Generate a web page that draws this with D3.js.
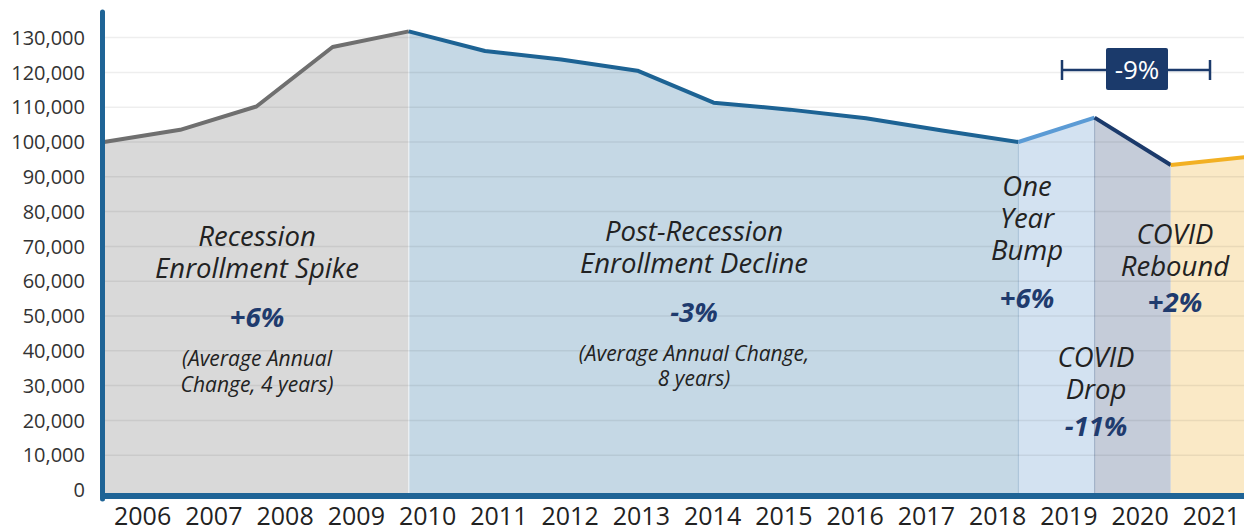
<!DOCTYPE html>
<html>
<head>
<meta charset="utf-8">
<script src="https://cdn.jsdelivr.net/npm/d3@7"></script>
<style>
  html, body { margin: 0; padding: 0; background: #fff; }
  svg { display: block; font-family: "Open Sans", "Noto Sans", sans-serif; }
</style>
</head>
<body>
<svg id="chart" width="1244" height="529"></svg>
<script>
// ---- Data ----
const years = [2006, 2007, 2008, 2009, 2010, 2011, 2012, 2013, 2014, 2015, 2016, 2017, 2018, 2019, 2020, 2021];
const enrollment = [100000, 103500, 110200, 127300, 131800, 126150, 123700, 120500, 111300, 109300, 106800, 103300, 100000, 107000, 93400, 95700];
const yTicks = [0, 10000, 20000, 30000, 40000, 50000, 60000, 70000, 80000, 90000, 100000, 110000, 120000, 130000];
const segStart = [2006, 2010, 2018, 2019, 2020];
const segEnd = [2010, 2018, 2019, 2020, 2021];
const segTitles = [
  ["Recession", "Enrollment Spike"],
  ["Post-Recession", "Enrollment Decline"],
  ["One", "Year", "Bump"],
  ["COVID", "Drop"],
  ["COVID", "Rebound"]
];
const segChange = ["+6%", "-3%", "+6%", "-11%", "+2%"];
const segNotes = [
  ["(Average Annual", "Change, 4 years)"],
  ["(Average Annual Change,", "8 years)"],
  [], [], []
];
const bracketLabel = "-9%";

// ---- Styles / layout ----
const lineColors = ["#6f6f6f", "#1d6394", "#5b9bd5", "#1b3a6b", "#f2b023"];
const fillColors = ["#d9d9d9", "#c5d8e5", "#d3e2f1", "#c5ccd9", "#fae9c6"];
const textLayout = [
  { x: 257, title: 245.7, change: 327, note: 366 },
  { x: 694, title: 240.7, change: 322, note: 360.5 },
  { x: 1027, title: 196, change: 308, note: 0 },
  { x: 1096, title: 366.7, change: 435.5, note: 0 },
  { x: 1175, title: 244.3, change: 312, note: 0 }
];

const svg = d3.select("#chart");
const x = d3.scaleLinear().domain([2006, 2021]).range([104, 1247]);
const xBand = d3.scaleBand().domain(years).range([107, 1247]);
const y = d3.scaleLinear().domain([0, 130000]).range([490, 37.6]);

const pts = years.map((yr, i) => ({ yr, v: enrollment[i] }));

// fills
segStart.forEach((s, k) => {
  const sub = pts.filter(p => p.yr >= s && p.yr <= segEnd[k]);
  const area = d3.area().x(p => x(p.yr)).y0(y(0) + 3).y1(p => y(p.v));
  svg.append("path").attr("d", area(sub)).attr("fill", fillColors[k]);
});

// segment dividers
svg.append("line").attr("x1", x(2010)).attr("x2", x(2010))
  .attr("y1", y(enrollment[years.indexOf(2010)])).attr("y2", y(0) + 3)
  .attr("stroke", "#eef2f5").attr("stroke-width", 1.2);
[2018, 2019].forEach((yr, k) => {
  svg.append("line").attr("x1", x(yr)).attr("x2", x(yr))
    .attr("y1", y(enrollment[years.indexOf(yr)])).attr("y2", y(0) + 3)
    .attr("stroke", k === 0 ? "#aec6da" : "#a3b3c9").attr("stroke-width", 1.2);
});

// gridlines
svg.append("g").selectAll("line").data(yTicks.filter(t => t > 0)).join("line")
  .attr("x1", 105).attr("x2", 1244)
  .attr("y1", d => y(d)).attr("y2", d => y(d))
  .attr("stroke", "#000").attr("stroke-opacity", 0.065).attr("stroke-width", 1.5);

// lines
segStart.forEach((s, k) => {
  const sub = pts.filter(p => p.yr >= s && p.yr <= segEnd[k]);
  const line = d3.line().x(p => x(p.yr)).y(p => y(p.v));
  svg.append("path").attr("d", line(sub)).attr("fill", "none")
    .attr("stroke", lineColors[k]).attr("stroke-width", 4)
    .attr("stroke-linejoin", "round");
});

// axes
svg.append("line").attr("x1", 102.5).attr("x2", 102.5).attr("y1", 12).attr("y2", 499)
  .attr("stroke", "#1f6496").attr("stroke-width", 5).attr("stroke-linecap", "round");
svg.append("line").attr("x1", 100).attr("x2", 1244).attr("y1", 496).attr("y2", 496)
  .attr("stroke", "#1f6496").attr("stroke-width", 6);

// y tick labels
svg.append("g").selectAll("text").data(yTicks).join("text")
  .attr("x", 85).attr("y", d => y(d)).attr("dy", "0.36em")
  .attr("text-anchor", "end").attr("font-size", 20).attr("fill", "#333")
  .text(d => d3.format(",")(d));

// x labels
svg.append("g").selectAll("text").data(years).join("text")
  .attr("x", d => xBand(d) + xBand.bandwidth() / 2).attr("y", 525)
  .attr("text-anchor", "middle").attr("font-size", 25).attr("fill", "#222")
  .text(d => d);

// annotations
segTitles.forEach((lines, k) => {
  const L = textLayout[k];
  const g = svg.append("g").attr("text-anchor", "middle");
  lines.forEach((t, j) => {
    g.append("text").attr("x", L.x).attr("y", L.title + j * 32)
      .attr("font-size", 27.5).attr("font-style", "italic").attr("fill", "#222").text(t);
  });
  g.append("text").attr("x", L.x).attr("y", L.change)
    .attr("font-size", 27.5).attr("font-style", "italic").attr("font-weight", 700)
    .attr("fill", "#1f3b6e").text(segChange[k]);
  segNotes[k].forEach((t, j) => {
    g.append("text").attr("x", L.x).attr("y", L.note + j * 25.5)
      .attr("font-size", 21).attr("font-style", "italic").attr("fill", "#222").text(t);
  });
});

// -9% bracket
const bg = svg.append("g");
const bracketY = 70;
bg.append("line").attr("x1", 1062).attr("x2", 1210).attr("y1", bracketY).attr("y2", bracketY)
  .attr("stroke", "#1b3a6b").attr("stroke-width", 2.5);
[1062, 1210].forEach(bx => {
  bg.append("line").attr("x1", bx).attr("x2", bx).attr("y1", bracketY - 10).attr("y2", bracketY + 10)
    .attr("stroke", "#1b3a6b").attr("stroke-width", 2.5);
});
bg.append("rect").attr("x", 1106).attr("y", 48).attr("width", 62).attr("height", 42)
  .attr("rx", 2).attr("fill", "#1b3a6b");
bg.append("text").attr("x", 1137).attr("y", 79).attr("text-anchor", "middle")
  .attr("font-size", 26).attr("fill", "#fff").text(bracketLabel);
</script>
</body>
</html>
